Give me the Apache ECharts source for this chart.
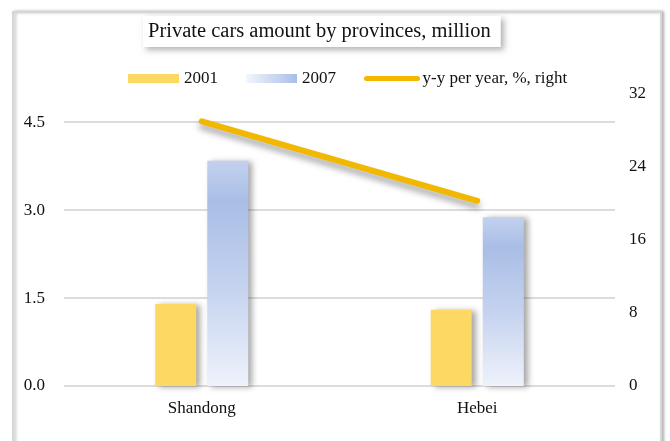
<!DOCTYPE html>
<html>
<head>
<meta charset="utf-8">
<script src="https://cdn.jsdelivr.net/npm/echarts@6/dist/echarts.min.js"></script>
<style>
html,body{margin:0;padding:0;background:#fff;}
#chart{width:670px;height:441px;}
</style>
</head>
<body>
<div id="chart"></div>
<script>
const categories = ['Shandong', 'Hebei'];
const values2001 = [1.40, 1.30];
const values2007 = [3.84, 2.88];
const yoyRight = [29.0, 20.3];
const leftTicks = [0, 1.5, 3.0, 4.5];
const rightTicks = [0, 8, 16, 24, 32];

const FONT = '"Liberation Serif", "DejaVu Serif", serif';
const chart = echarts.init(document.getElementById('chart'));

const blueGrad = new echarts.graphic.LinearGradient(0, 0, 0, 1, [
  {offset: 0, color: '#c3d1ee'},
  {offset: 0.18, color: '#a9bee6'},
  {offset: 0.55, color: '#c4d2ef'},
  {offset: 1, color: '#eef2fb'}
]);
const blueGradH = new echarts.graphic.LinearGradient(0, 0, 1, 0, [
  {offset: 0, color: '#f3f6fc'},
  {offset: 1, color: '#a9bee6'}
]);

chart.setOption({
  animation: false,
  backgroundColor: '#ffffff',
  graphic: [{
    type: 'rect',
    z: -10,
    shape: {x: 13, y: 12, width: 648, height: 445},
    style: {
      fill: '#ffffff', stroke: '#d6d6d6', lineWidth: 2,
      shadowBlur: 3, shadowOffsetX: 2, shadowOffsetY: 0, shadowColor: 'rgba(0,0,0,0.25)'
    }
  }],
  title: {
    text: 'Private cars amount by provinces, million',
    left: 143, top: 16,
    padding: [5, 10, 5, 5],
    backgroundColor: '#ffffff',
    shadowBlur: 6, shadowOffsetX: 3, shadowOffsetY: 3, shadowColor: 'rgba(0,0,0,0.3)',
    textStyle: {fontFamily: FONT, fontSize: 20.5, fontWeight: 'normal', color: '#111'}
  },
  legend: {
    left: 128, top: 70, padding: 0,
    itemWidth: 51, itemHeight: 9, itemGap: 28,
    textStyle: {fontFamily: FONT, fontSize: 17, color: '#111'},
    data: [
      {name: '2001', icon: 'rect', itemStyle: {color: '#fdd862', shadowBlur: 0}},
      {name: '2007', icon: 'rect', itemStyle: {color: blueGradH, shadowBlur: 0}},
      {name: 'y-y per year, %, right', itemStyle: {opacity: 0},
       lineStyle: {width: 5, cap: 'round', color: '#f2b800', shadowBlur: 0}}
    ]
  },
  grid: {left: 64, right: 55, top: 94, bottom: 55},
  xAxis: {
    type: 'category',
    data: categories,
    axisLine: {show: false},
    axisTick: {show: false},
    axisLabel: {fontFamily: FONT, fontSize: 17, color: '#111', margin: 14}
  },
  yAxis: [{
    type: 'value',
    min: leftTicks[0], max: 4.98, interval: 1.5,
    axisLine: {show: false}, axisTick: {show: false},
    axisLabel: {
      fontFamily: FONT, fontSize: 17, color: '#111', margin: 19,
      showMaxLabel: false,
      formatter: v => leftTicks.some(t => Math.abs(t - v) < 1e-6) ? v.toFixed(1) : ''
    },
    splitLine: {show: true, showMaxLine: false, lineStyle: {color: '#dcdcdc', width: 2}}
  }, {
    type: 'value',
    min: rightTicks[0], max: rightTicks[rightTicks.length - 1], interval: 8,
    axisLine: {show: false}, axisTick: {show: false},
    axisLabel: {fontFamily: FONT, fontSize: 17, color: '#111', margin: 14},
    splitLine: {show: false}
  }],
  series: [{
    name: '2001', type: 'bar', data: values2001,
    barWidth: 41, barGap: '27%',
    itemStyle: {color: '#fdd862', shadowBlur: 6, shadowOffsetX: 4, shadowOffsetY: 1, shadowColor: 'rgba(0,0,0,0.35)'}
  }, {
    name: '2007', type: 'bar', data: values2007,
    barWidth: 41,
    itemStyle: {color: blueGrad, shadowBlur: 6, shadowOffsetX: 4, shadowOffsetY: 1, shadowColor: 'rgba(0,0,0,0.35)'}
  }, {
    name: 'y-y per year, %, right', type: 'line', yAxisIndex: 1, data: yoyRight,
    symbol: 'none',
    itemStyle: {color: '#f2b800'},
    lineStyle: {color: '#f2b800', width: 6, cap: 'round',
      shadowBlur: 6, shadowOffsetX: 0, shadowOffsetY: 5, shadowColor: 'rgba(0,0,0,0.35)'}
  }]
});
</script>
</body>
</html>
